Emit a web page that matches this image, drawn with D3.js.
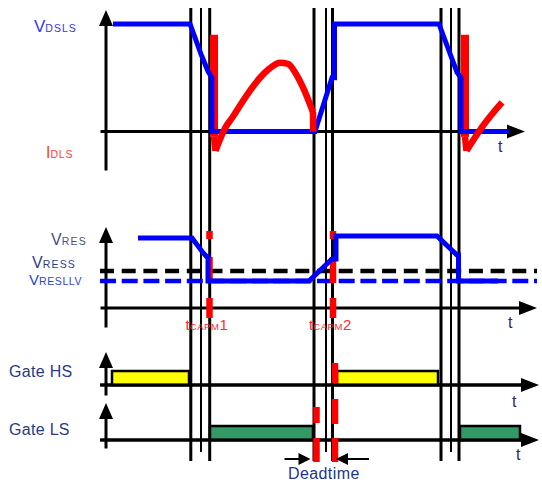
<!DOCTYPE html>
<html>
<head>
<meta charset="utf-8">
<script src="https://cdn.jsdelivr.net/npm/d3@7"></script>
<style>
  body { margin: 0; background: #fff; }
  svg { display: block; }
  text { font-family: "Liberation Sans", Arial, sans-serif; }
</style>
</head>
<body>
<svg id="chart" width="542" height="485"></svg>
<script>
// ---- Data (time in arbitrary units, levels normalised per trace) ----

// switching instants: three edges per transition
const switchingEdges = [
  [8.48, 9.5, 10.37],
  [20.8, 22.0, 22.65],
  [33.5, 34.5, 35.3]
];

// drain-source voltage of the low-side switch
const vdsls = [
  [0.7, 1], [8.4, 1], [8.8, 0.9], [9.5, 0.72], [10.2, 0.56], [10.6, 0.5], [10.6, 0],
  [20.9, 0], [22.6, 0.5], [22.85, 0.5], [22.85, 1],
  [33.3, 1], [33.7, 0.9], [35.1, 0.55], [35.5, 0.5], [35.5, 0], [40.3, 0]
];

// low-side current: turn-on spikes [time, top, bottom]
const idlsSpikes = [[10.8, 0.9, -0.05], [35.9, 0.9, -0.05]];
// negative dip right after each spike
const idlsDips = [
  [[10.8, -0.05], [10.95, -0.18]],
  [[35.9, -0.05], [36.05, -0.18]]
];
// resonant half-wave after the first spike
const idlsArc = [
  [10.95, -0.18], [11.9, 0.03], [12.7, 0.14], [13.6, 0.27], [14.4, 0.38],
  [15.4, 0.5], [16.4, 0.59], [17.4, 0.64], [18.2, 0.63], [19.1, 0.52], [19.7, 0.41],
  [20.2, 0.3], [20.7, 0.18]
];
const idlsArcEnd = [[20.7, 0.18], [20.72, 0]];
// start of the next half-wave
const idlsTail = [[36.05, -0.18], [37.6, 0.04], [39.6, 0.27]];

// resonant capacitor voltage and its thresholds
const vres = [
  [3.2, 1], [8.6, 1], [9.7, 0.79], [10.1, 0.73], [10.2, 0.73], [10.2, 0.386],
  [20.3, 0.386], [22.6, 0.7], [23.0, 0.7], [23.0, 1.03],
  [33.1, 1.03], [35.1, 0.757], [35.25, 0.757], [35.25, 0.386], [39.2, 0.386]
];
const vress = 0.529;
const vresllv = 0.386;

// capacitive-mode check instants
const capmTimes = [10.35, 22.7];
const capmNames = ["1", "2"];

// gate drive pulses [on, off]
const gateHS = [[0.6, 8.3], [23.1, 33.2]];
const gateLS = [[10.4, 20.7], [35.4, 41.4]];

// dead-time boundaries
const deadtimeEdges = [21.05, 22.9];

// ---- Scales ----
const svg = d3.select("#chart");
const x = d3.scaleLinear().domain([0, 42]).range([106, 526]);
const yTop = d3.scaleLinear().domain([0, 1]).range([131.5, 24]);
const yRes = d3.scaleLinear().domain([0, 1]).range([308, 238]);
const yHS = d3.scaleLinear().domain([0, 1]).range([385, 371]);
const yLS = d3.scaleLinear().domain([0, 1]).range([440, 426]);

const BLUE = "#0000ff", RED = "#ff0000", NAVY = "#1e2d6e";

// ---- Panel axes with arrow heads ----
const axesLayout = [
  { y: yTop, top: 10, bottom: 170, right: 525 },
  { y: yRes, top: 227, bottom: 327, right: 537 },
  { y: yHS,  top: 352, bottom: 395, right: 539 },
  { y: yLS,  top: 403, bottom: 448, right: 539 }
];
const gAxes = svg.append("g");
axesLayout.forEach(p => {
  const base = p.y(0);
  const hx = d3.scaleLinear().domain([0, 1]).range([100, p.right - 10]);
  const vy = d3.scaleLinear().domain([0, 1]).range([p.bottom, p.top + 10]);
  gAxes.append("g")
    .attr("transform", `translate(0,${base - 0.5})`)
    .call(d3.axisBottom(hx).tickValues([]).tickSizeOuter(0))
    .call(g => g.select(".domain").attr("stroke", "#000").attr("stroke-width", 3));
  gAxes.append("g")
    .attr("transform", `translate(${x(0) - 0.5},0)`)
    .call(d3.axisLeft(vy).tickValues([]).tickSizeOuter(0))
    .call(g => g.select(".domain").attr("stroke", "#000").attr("stroke-width", 3));
  // arrow heads
  gAxes.append("path")
    .attr("d", `M${p.right},${base} L${p.right - 18},${base - 7} L${p.right - 18},${base + 7} Z`)
    .attr("fill", "#000");
  gAxes.append("path")
    .attr("d", `M${x(0)},${p.top} L${x(0) - 7},${p.top + 16} L${x(0) + 7},${p.top + 16} Z`)
    .attr("fill", "#000");
});

// ---- Switching edge markers ----
const gEdges = svg.append("g");
switchingEdges.forEach(group => {
  group.forEach((t, i) => {
    gEdges.append("line")
      .attr("x1", x(t)).attr("x2", x(t))
      .attr("y1", 8).attr("y2", i === 1 ? 452 : 461)
      .attr("stroke", "#000")
      .attr("stroke-width", i === 1 ? 2 : 3);
  });
});

// ---- Top panel: V_DSLS and I_DLS ----
const lineTop = d3.line().x(d => x(d[0])).y(d => yTop(d[1]));
const curveTop = d3.line().curve(d3.curveMonotoneX).x(d => x(d[0])).y(d => yTop(d[1]));
svg.append("g").selectAll("line").data(idlsSpikes).join("line")
  .attr("x1", d => x(d[0])).attr("x2", d => x(d[0]))
  .attr("y1", d => yTop(d[1])).attr("y2", d => yTop(d[2]))
  .attr("stroke", RED).attr("stroke-width", 8);
svg.append("path").datum(vdsls).attr("d", lineTop)
  .attr("fill", "none").attr("stroke", BLUE).attr("stroke-width", 5);
const redStroke = sel => sel.attr("fill", "none").attr("stroke", RED)
  .attr("stroke-width", 6.5).attr("stroke-linecap", "butt");
idlsDips.forEach(seg => svg.append("path").datum(seg).attr("d", lineTop).call(redStroke));
svg.append("path").datum(idlsArc).attr("d", curveTop).call(redStroke);
svg.append("path").datum(idlsArcEnd).attr("d", lineTop).call(redStroke);
svg.append("path").datum(idlsTail).attr("d", curveTop).call(redStroke);

// ---- Middle panel: V_RES with thresholds ----
const lineRes = d3.line().x(d => x(d[0])).y(d => yRes(d[1]));
svg.append("line")
  .attr("x1", 100).attr("x2", 537)
  .attr("y1", yRes(vress)).attr("y2", yRes(vress))
  .attr("stroke", "#000").attr("stroke-width", 4.5).attr("stroke-dasharray", "14,7.7");
svg.append("line")
  .attr("x1", 100).attr("x2", 537)
  .attr("y1", yRes(vresllv)).attr("y2", yRes(vresllv))
  .attr("stroke", BLUE).attr("stroke-width", 4.5).attr("stroke-dasharray", "16,5.7");
svg.append("g").selectAll("line").data(capmTimes).join("line")
  .attr("x1", d => x(d)).attr("x2", d => x(d))
  .attr("y1", 231).attr("y2", 319)
  .attr("stroke", RED).attr("stroke-width", 6.5)
  .attr("stroke-dasharray", "8,18,26,15,20");
svg.append("path").datum(vres).attr("d", lineRes)
  .attr("fill", "none").attr("stroke", BLUE).attr("stroke-width", 5);

// ---- Gate drive pulses ----
svg.append("g").selectAll("rect").data(gateHS).join("rect")
  .attr("x", d => x(d[0])).attr("width", d => x(d[1]) - x(d[0]))
  .attr("y", yHS(1)).attr("height", yHS(0) - yHS(1))
  .attr("fill", "#ffff00").attr("stroke", "#000").attr("stroke-width", 2.5);
svg.append("g").selectAll("rect").data(gateLS).join("rect")
  .attr("x", d => x(d[0])).attr("width", d => x(d[1]) - x(d[0]))
  .attr("y", yLS(1)).attr("height", yLS(0) - yLS(1))
  .attr("fill", "#339966").attr("stroke", "#000").attr("stroke-width", 2.5);
// redraw gate baselines over the pulse outlines
[yHS, yLS].forEach(s => {
  svg.append("line").attr("x1", 100).attr("x2", 525)
    .attr("y1", s(0)).attr("y2", s(0))
    .attr("stroke", "#000").attr("stroke-width", 3);
});

// dead-time boundaries
svg.append("line")
  .attr("x1", x(deadtimeEdges[0])).attr("x2", x(deadtimeEdges[0]))
  .attr("y1", 407).attr("y2", 462)
  .attr("stroke", RED).attr("stroke-width", 6.5).attr("stroke-dasharray", "16,15,24");
svg.append("line")
  .attr("x1", x(deadtimeEdges[1])).attr("x2", x(deadtimeEdges[1]))
  .attr("y1", 363).attr("y2", 462)
  .attr("stroke", RED).attr("stroke-width", 6.5).attr("stroke-dasharray", "20,16,25,14,24");

// dead-time arrows
const arrowY = 459;
const aL = x(deadtimeEdges[0]) - 6, aR = x(deadtimeEdges[1]) + 1;
svg.append("line").attr("x1", aL - 26).attr("x2", aL - 8).attr("y1", arrowY).attr("y2", arrowY)
  .attr("stroke", "#000").attr("stroke-width", 2);
svg.append("path").attr("d", `M${aL},${arrowY} L${aL - 12},${arrowY - 6} L${aL - 12},${arrowY + 6} Z`).attr("fill", "#000");
svg.append("line").attr("x1", aR + 8).attr("x2", aR + 33).attr("y1", arrowY).attr("y2", arrowY)
  .attr("stroke", "#000").attr("stroke-width", 2);
svg.append("path").attr("d", `M${aR},${arrowY} L${aR + 12},${arrowY - 6} L${aR + 12},${arrowY + 6} Z`).attr("fill", "#000");

// ---- Labels ----
function label(px, py, parts, color) {
  const t = svg.append("text").attr("x", px).attr("y", py).attr("fill", color);
  parts.forEach(([s, size, ls]) => {
    t.append("tspan").attr("font-size", size).attr("letter-spacing", ls || 0).text(s);
  });
  return t;
}
label(34, 32, [["V", 17], ["DSLS", 10.5, 1]], "#3535ee");
label(46, 158, [["I", 16], ["DLS", 10.5, 0.8]], "#ff3b3b");
label(51, 245, [["V", 16], ["RES", 10.5, 1.2]], "#46527e");
label(32, 268, [["V", 16], ["RESS", 10.5, 1.2]], "#2e3f86");
label(29, 285, [["V", 15], ["RESLLV", 10.5, 0.6]], "#2a44d8");

capmTimes.forEach((t, i) => {
  label(x(t) - 24, 330, [["t", 15], ["CAPM", 9.5, 0.6], [capmNames[i], 15]], "#ff2a2a");
});

label(498, 152, [["t", 16]], NAVY);
label(508, 328, [["t", 16]], NAVY);
label(512, 407, [["t", 16]], NAVY);
label(516, 460, [["t", 16]], NAVY);

label(9, 377, [["Gate HS", 16, 0.3]], "#2a3b80");
label(9, 435, [["Gate LS", 16, 0.3]], "#2a3b80");
label(288, 479, [["Deadtime", 16, 0.4]], "#22368a");
</script>
</body>
</html>
